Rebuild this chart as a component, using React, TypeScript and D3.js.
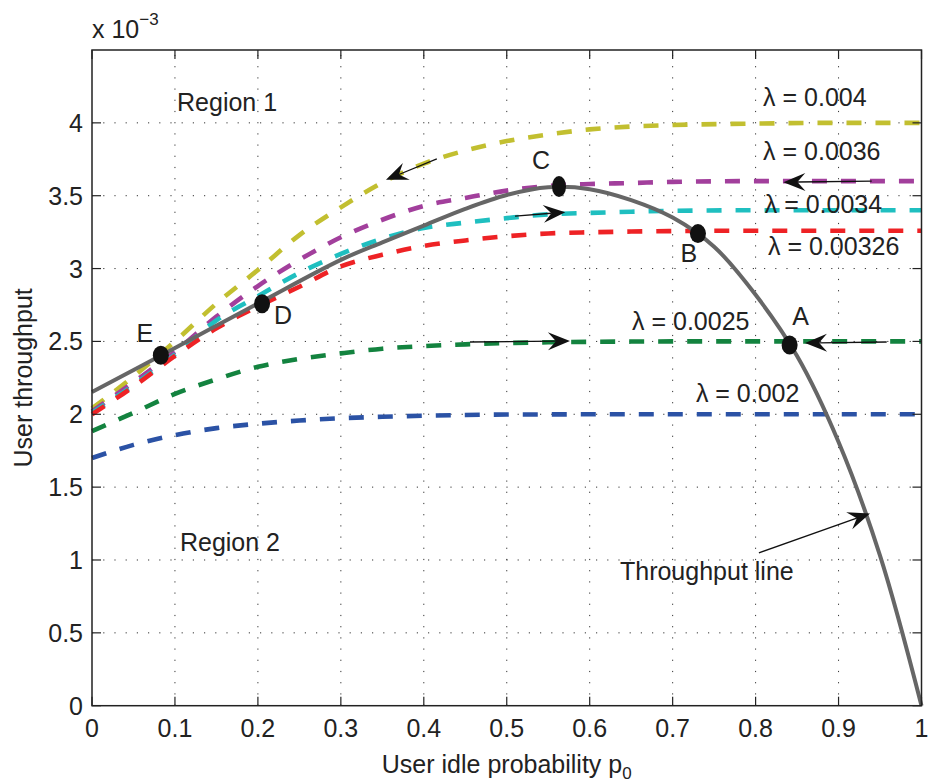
import React from "react";
import * as d3 from "d3";

// ---------------- data ----------------
const pGrid = [0, 0.05, 0.1, 0.15, 0.2, 0.25, 0.3, 0.35, 0.4, 0.45, 0.5, 0.55, 0.6, 0.65, 0.7, 0.8, 0.9, 1.0];

const lam0040 = [2.04, 2.26, 2.5, 2.76, 2.99, 3.23, 3.42, 3.59, 3.72, 3.81, 3.875, 3.92, 3.955, 3.975, 3.985, 3.995, 4.0, 4.0];
const lam0036 = [2.02, 2.22, 2.43, 2.67, 2.88, 3.06, 3.215, 3.335, 3.43, 3.485, 3.535, 3.567, 3.58, 3.587, 3.595, 3.6, 3.6, 3.6];
const lam0034 = [2.01, 2.2, 2.41, 2.645, 2.81, 2.97, 3.1, 3.205, 3.278, 3.315, 3.346, 3.372, 3.382, 3.39, 3.396, 3.4, 3.4, 3.4];
const lam00326 = [2.0, 2.19, 2.4, 2.59, 2.74, 2.875, 3.015, 3.095, 3.155, 3.193, 3.222, 3.241, 3.249, 3.254, 3.257, 3.26, 3.26, 3.26];
const lam0025 = [1.885, 2.01, 2.14, 2.24, 2.326, 2.38, 2.418, 2.45, 2.468, 2.48, 2.489, 2.494, 2.497, 2.499, 2.5, 2.5, 2.5, 2.5];
const lam0020 = [1.7, 1.79, 1.857, 1.905, 1.935, 1.957, 1.973, 1.983, 1.99, 1.995, 1.998, 1.999, 2.0, 2.0, 2.0, 2.0, 2.0, 2.0];

const seriesNames = ["λ = 0.004", "λ = 0.0036", "λ = 0.0034", "λ = 0.00326", "λ = 0.0025", "λ = 0.002"];
const seriesColors = ["#C2BF30", "#A23F9C", "#1FBFC0", "#EE2225", "#13833F", "#2B52A5"];
const seriesValues = [lam0040, lam0036, lam0034, lam00326, lam0025, lam0020];
// label anchors (data coords: p0, throughput x1e-3)
const seriesLabelX = [0.809, 0.809, 0.811, 0.815, 0.651, 0.728];
const seriesLabelY = [4.118, 3.746, 3.38, 3.095, 2.581, 2.084];

const pThr = [0, 0.1, 0.2, 0.3, 0.35, 0.4, 0.45, 0.5, 0.55, 0.6, 0.65, 0.7, 0.75, 0.8, 0.85, 0.9, 0.95, 1.0];
const thrLine = [2.153, 2.455, 2.76, 3.06, 3.18, 3.295, 3.41, 3.505, 3.558, 3.545, 3.47, 3.35, 3.15, 2.82, 2.4, 1.81, 1.03, 0];

const pointNames = ["A", "B", "C", "D", "E"];
const pointX = [0.841, 0.7305, 0.563, 0.205, 0.083];
const pointY = [2.475, 3.24, 3.563, 2.758, 2.405];
const pointLabelDx = [11, -9, -18, 21, -16];
const pointLabelDy = [-20, 28, -18, 20, -13];

// arrows in data coords
const arrowFrom = [
  [0.4157, 3.753],
  [0.51, 3.36],
  [0.94, 3.6],
  [0.4557, 2.496],
  [0.958, 2.496],
  [0.804, 1.049],
];
const arrowTo = [
  [0.3544, 3.609],
  [0.5706, 3.387],
  [0.8335, 3.593],
  [0.5762, 2.503],
  [0.8596, 2.489],
  [0.9379, 1.319],
];

const xTicks = [0, 0.1, 0.2, 0.3, 0.4, 0.5, 0.6, 0.7, 0.8, 0.9, 1];
const yTicks = [0, 0.5, 1, 1.5, 2, 2.5, 3, 3.5, 4];

const textNotes = ["Region 1", "Region 2", "Throughput line"];
const textNoteX = [0.1025, 0.106, 0.6365];
const textNoteY = [4.08, 1.063, 0.862];

// ---------------- layout ----------------
const W = 928;
const H = 783;
const left = 92;
const right = 921.5;
const top = 50;
const bottom = 705.7;
const FONT = "'Liberation Sans', Arial, Helvetica, sans-serif";
const FS = 25;

export default function App() {
  const x = d3.scaleLinear().domain([0, 1]).range([left, right]);
  const y = d3.scaleLinear().domain([0, 4.5]).range([bottom, top]);

  const line = d3
    .line<number>()
    .x((_, i) => x(pGrid[i]))
    .y((d) => y(d))
    .curve(d3.curveMonotoneX);

  const thr = d3
    .line<number>()
    .x((_, i) => x(pThr[i]))
    .y((d) => y(d))
    .curve(d3.curveCatmullRom.alpha(0.5));

  const tickLen = 9;

  const arrows = arrowFrom.map((f, i) => {
    const t = arrowTo[i];
    const x0 = x(f[0]);
    const y0 = y(f[1]);
    const x1 = x(t[0]);
    const y1 = y(t[1]);
    const dx = x1 - x0;
    const dy = y1 - y0;
    const len = Math.hypot(dx, dy);
    const ux = dx / len;
    const uy = dy / len;
    const nx = -uy;
    const ny = ux;
    const L = 22;
    const Wd = 9;
    const N = 14;
    const b1 = [x1 - ux * L + nx * Wd, y1 - uy * L + ny * Wd];
    const b2 = [x1 - ux * L - nx * Wd, y1 - uy * L - ny * Wd];
    const nt = [x1 - ux * N, y1 - uy * N];
    return (
      <g key={"ar" + i}>
        <line x1={x0} y1={y0} x2={nt[0]} y2={nt[1]} stroke="#111" strokeWidth={1.3} />
        <path
          d={`M${x1},${y1}L${b1[0]},${b1[1]}L${nt[0]},${nt[1]}L${b2[0]},${b2[1]}Z`}
          fill="#111"
        />
      </g>
    );
  });

  return (
    <svg
      width={W}
      height={H}
      viewBox={`0 0 ${W} ${H}`}
      style={{ position: "absolute", left: 0, top: 0, background: "#fff" }}
      fontFamily={FONT}
    >
      <rect x={0} y={0} width={W} height={H} fill="#fff" />
      {/* grid */}
      {xTicks.slice(1, -1).map((t) => (
        <line key={"gx" + t} x1={x(t)} x2={x(t)} y1={bottom} y2={top} stroke="#333" strokeWidth={1} strokeDasharray="1.2,10" />
      ))}
      {yTicks.slice(1).map((t) => (
        <line key={"gy" + t} x1={left} x2={right} y1={y(t)} y2={y(t)} stroke="#333" strokeWidth={1} strokeDasharray="1.2,10" />
      ))}

      {/* dashed lambda curves */}
      {seriesValues.map((vals, i) => (
        <path
          key={"s" + i}
          d={line(vals) || ""}
          fill="none"
          stroke={seriesColors[i]}
          strokeWidth={4.6}
          strokeDasharray="15,14"
        />
      ))}

      {/* throughput line */}
      <path d={thr(thrLine) || ""} fill="none" stroke="#666666" strokeWidth={4} />

      {/* arrows */}
      {arrows}

      {/* points */}
      {pointNames.map((n, i) => (
        <g key={"p" + n}>
          <ellipse cx={x(pointX[i])} cy={y(pointY[i])} rx={n === "C" ? 7 : 8} ry={n === "C" ? 10.5 : 9.5} fill="#111" />
          <text
            x={x(pointX[i]) + pointLabelDx[i]}
            y={y(pointY[i]) + pointLabelDy[i]}
            fontSize={FS}
            textAnchor="middle"
            fill="#222"
          >
            {n}
          </text>
        </g>
      ))}

      {/* series labels */}
      {seriesNames.map((n, i) => (
        <text key={"sl" + i} x={x(seriesLabelX[i])} y={y(seriesLabelY[i])} fontSize={FS} fill="#222">
          {n}
        </text>
      ))}

      {textNotes.map((n, i) => (
        <text key={"tn" + i} x={x(textNoteX[i])} y={y(textNoteY[i])} fontSize={FS} fill="#222">
          {n}
        </text>
      ))}

      {/* axes box */}
      <rect x={left} y={top} width={right - left} height={bottom - top} fill="none" stroke="#222" strokeWidth={1.5} />
      {xTicks.map((t) => (
        <g key={"xt" + t}>
          <line x1={x(t)} x2={x(t)} y1={bottom} y2={bottom - tickLen} stroke="#222" strokeWidth={1.2} />
          <line x1={x(t)} x2={x(t)} y1={top} y2={top + tickLen} stroke="#222" strokeWidth={1.2} />
          <text x={x(t)} y={737} fontSize={FS} textAnchor="middle" fill="#222">
            {String(t)}
          </text>
        </g>
      ))}
      {yTicks.map((t) => (
        <g key={"yt" + t}>
          <line x1={left} x2={left + tickLen} y1={y(t)} y2={y(t)} stroke="#222" strokeWidth={1.2} />
          <line x1={right} x2={right - tickLen} y1={y(t)} y2={y(t)} stroke="#222" strokeWidth={1.2} />
          <text x={83} y={y(t)} dy="0.36em" fontSize={FS} textAnchor="end" fill="#222">
            {String(t)}
          </text>
        </g>
      ))}

      {/* exponent */}
      <text x={left} y={38} fontSize={FS} fill="#222">
        x 10
        <tspan fontSize={17} dy={-13}>−3</tspan>
      </text>

      {/* axis labels */}
      <text x={(left + right) / 2} y={773} fontSize={FS} textAnchor="middle" fill="#222">
        User idle probability p
        <tspan fontSize={17} dy={6}>0</tspan>
      </text>
      <text
        transform={`translate(32,${(top + bottom) / 2}) rotate(-90)`}
        fontSize={FS}
        textAnchor="middle"
        fill="#222"
      >
        User throughput
      </text>
    </svg>
  );
}
